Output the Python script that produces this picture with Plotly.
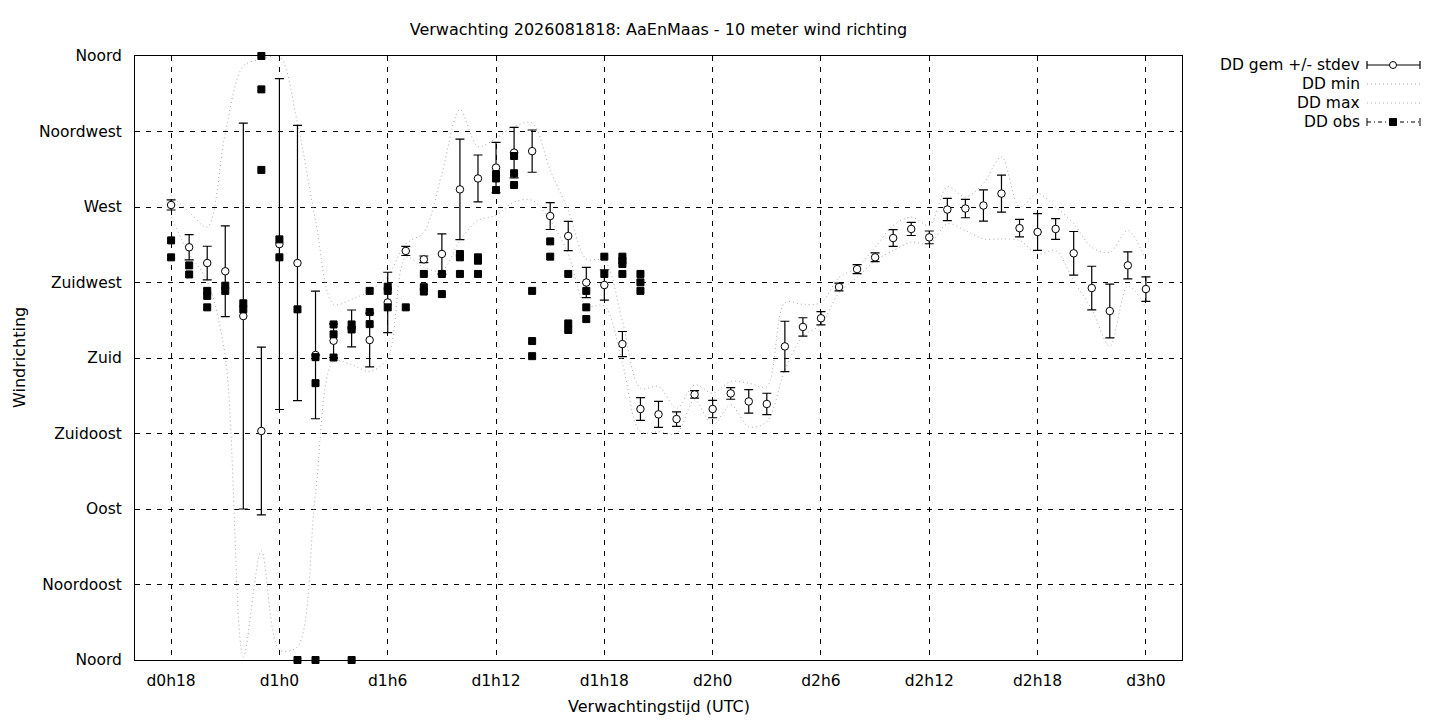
import plotly.graph_objects as go

# ---------------- data ----------------
hours = list(range(18, 73))

dd_mean = [271.2, 246.0, 236.6, 231.7, 205.0, 136.5, 247.9, 236.6, 181.8, 190.3,
           197.6, 190.7, 213.1, 243.8, 238.8, 242.0, 280.5, 287.0, 293.5, 302.4,
           303.3, 264.6, 252.7, 225.0, 223.5, 188.3, 149.6, 146.4, 143.6, 158.3,
           149.6, 158.9, 154.1, 152.6, 186.9, 198.5, 203.7, 222.3, 233.0, 240.0,
           251.5, 256.9, 251.9, 268.5, 269.1, 270.9, 278.0, 257.4, 255.1, 256.9,
           242.4, 221.7, 208.0, 235.2, 221.1]

dd_std = [3.0, 7.5, 10.0, 27.0, 115.0, 50.0, 98.6, 82.0, 38.0, 10.0,
          11.0, 16.0, 18.0, 2.7, 2.0, 12.0, 30.0, 14.0, 15.0, 15.0,
          12.6, 8.0, 8.7, 9.0, 9.0, 7.5, 6.8, 7.7, 4.3, 2.2,
          5.2, 3.5, 7.0, 6.4, 15.0, 5.5, 4.0, 2.3, 2.7, 2.6,
          5.0, 3.9, 3.8, 6.6, 5.5, 9.3, 11.0, 5.2, 11.0, 6.2,
          13.0, 13.0, 16.0, 8.0, 7.3]

dd_min = [264, 242, 226, 181, 2, 65, 6, 8, 100, 178,
          176, 172, 180, 240, 234, 232, 250, 262, 265, 273,
          274, 262, 242, 211, 211, 177, 136, 136, 135, 155,
          140, 152, 139, 142, 173, 193, 200, 219, 228, 238,
          244, 249, 248, 260, 256, 251, 251, 250, 242, 244,
          226, 209, 187, 223, 210]

dd_max = [277, 267, 258, 314, 354, 358, 359.6, 320, 262, 212,
          215, 220, 229, 248, 255, 290, 328, 306, 311, 318,
          320, 292, 268, 239, 238, 202, 162, 163, 150, 164,
          159, 166, 165, 163, 213, 212, 213, 228, 234, 246,
          259, 264, 259, 282, 276, 284, 300, 270, 278, 270,
          260, 246, 243, 256, 238]

obs_hours = [18, 18, 19, 19, 20, 20, 20, 21, 21, 22, 22,
             23, 23, 23, 24, 24, 25, 25, 26, 26, 26,
             27, 27, 27, 28, 28, 28, 29, 29, 29, 30, 30, 30,
             31, 32, 32, 32, 33, 33, 34, 34, 34, 35, 35, 35,
             36, 36, 36, 37, 37, 37, 38, 38, 38, 39, 39,
             40, 40, 40, 41, 41, 41, 42, 42, 43, 43, 43, 43,
             44, 44, 44]
obs_values = [250.1, 240.0, 235.2, 229.8, 220.0, 217.0, 210.2, 223.1, 220.0, 212.6, 209.0,
              360.0, 340.1, 292.1, 250.7, 240.0, 209.0, 0.0, 180.5, 165.0, 0.0,
              200.0, 194.1, 180.3, 200.0, 197.0, 0.0, 220.0, 207.4, 200.2, 222.5, 220.0, 210.2,
              210.2, 230.1, 222.2, 219.6, 230.1, 218.1, 242.0, 240.0, 230.1, 240.0, 238.0, 230.1,
              289.6, 287.0, 280.1, 300.4, 290.1, 283.1, 220.0, 190.1, 181.1, 249.5, 240.4,
              230.1, 200.6, 196.7, 220.0, 210.2, 203.2, 240.4, 230.1, 240.4, 238.0, 236.0, 230.1,
              230.1, 225.1, 220.0]

x_tickvals = [18, 24, 30, 36, 42, 48, 54, 60, 66, 72]
x_ticktext = ["d0h18", "d1h0", "d1h6", "d1h12", "d1h18", "d2h0", "d2h6", "d2h12", "d2h18", "d3h0"]
y_tickvals = [0, 45, 90, 135, 180, 225, 270, 315, 360]
y_ticktext = ["Noord", "Noordoost", "Oost", "Zuidoost", "Zuid", "Zuidwest", "West", "Noordwest", "Noord"]

legend_labels = ["DD gem +/- stdev", "DD min", "DD max", "DD obs"]

# ---------------- layout constants ----------------
OFF = 8                      # page body margin of the html page
W, H = 1440 - OFF, 720 - OFF
L, R, T, B = 135, 1182, 56, 660      # plot area in window pixels
FONT = "DejaVu Sans"
GRAY = "#a8a8a8"


def px(xp):
    return (xp - L) / (R - L)


def py(yp):
    return (B - yp) / (B - T)


fig = go.Figure()

fig.add_trace(go.Scatter(x=hours, y=dd_min, mode="lines", name=legend_labels[1],
                         line=dict(color=GRAY, width=1, dash="1px,3px", shape="spline", smoothing=0.9),
                         hoverinfo="x+y"))
fig.add_trace(go.Scatter(x=hours, y=dd_max, mode="lines", name=legend_labels[2],
                         line=dict(color=GRAY, width=1, dash="1px,3px", shape="spline", smoothing=0.9),
                         hoverinfo="x+y"))
fig.add_trace(go.Scatter(x=hours, y=dd_mean, mode="markers", name=legend_labels[0],
                         marker=dict(symbol="circle", size=7.5, color="white",
                                     line=dict(color="black", width=1)),
                         error_y=dict(type="data", array=dd_std, visible=True,
                                      color="black", thickness=1.2, width=4.5),
                         cliponaxis=False))
fig.add_trace(go.Scatter(x=obs_hours, y=obs_values, mode="markers", name=legend_labels[3],
                         marker=dict(symbol="square", size=7, color="black",
                                     line=dict(color="black", width=1)),
                         cliponaxis=False))

axis_common = dict(showgrid=True, gridcolor="black", gridwidth=1, griddash="5px,6px",
                   zeroline=False, showline=True, linecolor="black", linewidth=1,
                   mirror=True, ticks="", tickfont=dict(family=FONT, size=15.5, color="black"))

fig.update_layout(
    width=W, height=H,
    margin=dict(l=L - OFF, r=W - (R - OFF), t=T - OFF, b=H - (B - OFF), pad=0),
    paper_bgcolor="white", plot_bgcolor="white",
    showlegend=False,
    font=dict(family=FONT, size=15, color="black"),
    title=dict(text="Verwachting 2026081818: AaEnMaas - 10 meter wind richting",
               x=0.5, xref="paper", xanchor="center",
               y=1 - (29 - OFF) / H, yref="container", yanchor="middle",
               font=dict(family=FONT, size=16, color="black")),
    xaxis=dict(range=[16, 74], tickvals=x_tickvals, ticktext=x_ticktext,
               ticklabelstandoff=6, **axis_common),
    yaxis=dict(range=[0, 360], tickvals=y_tickvals, ticktext=y_ticktext,
               ticklabelstandoff=9, **axis_common),
)

# axis titles
fig.add_annotation(text="Verwachtingstijd (UTC)", xref="paper", yref="paper",
                   x=0.5, y=py(706), xanchor="center", yanchor="middle",
                   showarrow=False, font=dict(family=FONT, size=16))
fig.add_annotation(text="Windrichting", xref="paper", yref="paper",
                   x=px(19), y=py(358), xanchor="center", yanchor="middle",
                   textangle=-90, showarrow=False, font=dict(family=FONT, size=16))

# custom legend (text right-aligned, sample on the right as in the original)
rows = [65, 84, 103, 122]
for lab, yr in zip(legend_labels, rows):
    fig.add_annotation(text=lab, xref="paper", yref="paper", x=px(1362), y=py(yr),
                       xanchor="right", yanchor="middle", showarrow=False,
                       font=dict(family=FONT, size=15.5))

x0s, x1s, xc = 1367, 1420, 1393
# row 1: error bar sample with circle
fig.add_shape(type="line", xref="paper", yref="paper", x0=px(x0s), x1=px(x1s),
              y0=py(rows[0]), y1=py(rows[0]), line=dict(color="black", width=1.2))
for xe in (x0s, x1s):
    fig.add_shape(type="line", xref="paper", yref="paper", x0=px(xe), x1=px(xe),
                  y0=py(rows[0] - 4), y1=py(rows[0] + 4), line=dict(color="black", width=1.2))
fig.add_shape(type="circle", xref="paper", yref="paper", x0=px(xc - 3.5), x1=px(xc + 3.5),
              y0=py(rows[0] + 3.5), y1=py(rows[0] - 3.5),
              line=dict(color="black", width=1), fillcolor="white")
# rows 2,3: dotted gray
for yr in rows[1:3]:
    fig.add_shape(type="line", xref="paper", yref="paper", x0=px(x0s), x1=px(x1s),
                  y0=py(yr), y1=py(yr), line=dict(color=GRAY, width=1, dash="1px,3px"))
# row 4: dash-dot with square
fig.add_shape(type="line", xref="paper", yref="paper", x0=px(x0s), x1=px(x1s),
              y0=py(rows[3]), y1=py(rows[3]), line=dict(color="black", width=1, dash="4px,3px,1px,3px"))
for xe in (x0s, x1s):
    fig.add_shape(type="line", xref="paper", yref="paper", x0=px(xe), x1=px(xe),
                  y0=py(rows[3] - 4), y1=py(rows[3] + 4), line=dict(color="black", width=1))
fig.add_shape(type="rect", xref="paper", yref="paper", x0=px(xc - 3.5), x1=px(xc + 3.5),
              y0=py(rows[3] + 3.5), y1=py(rows[3] - 3.5),
              line=dict(color="black", width=1), fillcolor="black")

fig.write_html("out.html")
